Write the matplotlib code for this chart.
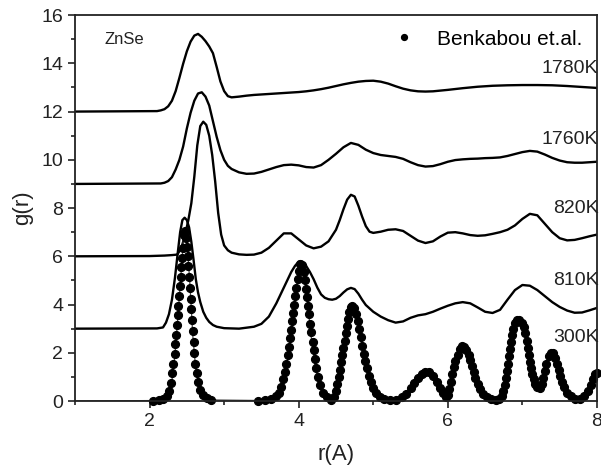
import matplotlib
matplotlib.use('Agg')
import matplotlib.pyplot as plt
from matplotlib.ticker import MultipleLocator

plt.rcParams['font.family'] = ['Liberation Sans', 'DejaVu Sans']

# g(r) curves, already shifted by 3 per temperature
r_1780 = [1.0, 2.1, 2.15, 2.2, 2.25, 2.3, 2.35, 2.4, 2.45, 2.5, 2.55, 2.6, 2.65, 2.7, 2.75, 2.8, 2.85,
          2.9, 2.95, 3.0, 3.05, 3.1, 3.2, 3.3, 3.4, 3.5, 3.6, 3.7, 3.8, 3.9, 4.0, 4.1, 4.2, 4.3, 4.4,
          4.5, 4.6, 4.7, 4.8, 4.9, 5.0, 5.1, 5.2, 5.3, 5.4, 5.5, 5.6, 5.7, 5.8, 5.9, 6.0, 6.2, 6.4, 6.6,
          6.8, 7.0, 7.2, 7.4, 7.6, 7.8, 8.0]
g_1780 = [12.0, 12.02, 12.05, 12.1, 12.22, 12.45, 12.85, 13.4, 13.98, 14.5, 14.9, 15.15, 15.22, 15.1,
          14.92, 14.7, 14.42, 13.85, 13.25, 12.85, 12.64, 12.59, 12.62, 12.66, 12.69, 12.71, 12.73,
          12.75, 12.77, 12.79, 12.81, 12.84, 12.88, 12.93, 12.99, 13.06, 13.13, 13.19, 13.24, 13.27,
          13.28, 13.24, 13.16, 13.05, 12.95, 12.88, 12.84, 12.83, 12.84, 12.87, 12.9, 12.97, 13.03,
          13.07, 13.09, 13.1, 13.1, 13.09, 13.06, 13.02, 12.98]

r_1760 = [1.0, 2.15, 2.2, 2.25, 2.3, 2.35, 2.4, 2.45, 2.5, 2.55, 2.6, 2.65, 2.7, 2.75, 2.8, 2.85, 2.9,
          2.95, 3.0, 3.05, 3.1, 3.2, 3.3, 3.4, 3.5, 3.6, 3.7, 3.8, 3.9, 4.0, 4.1, 4.2, 4.3, 4.4, 4.5,
          4.6, 4.7, 4.8, 4.9, 5.0, 5.1, 5.2, 5.3, 5.4, 5.5, 5.6, 5.7, 5.8, 5.9, 6.0, 6.1, 6.2, 6.3, 6.4,
          6.5, 6.6, 6.7, 6.8, 6.9, 7.0, 7.1, 7.2, 7.3, 7.4, 7.5, 7.6, 7.7, 7.8, 7.9, 8.0]
g_1760 = [9.0, 9.02, 9.05, 9.12, 9.28, 9.6, 10.0, 10.55, 11.3, 11.95, 12.45, 12.75, 12.8, 12.62, 12.25,
          11.6, 10.95, 10.4, 10.0, 9.75, 9.62, 9.48, 9.42, 9.43, 9.5, 9.6, 9.7, 9.78, 9.8, 9.77, 9.7,
          9.68, 9.78, 10.0, 10.25, 10.52, 10.7, 10.62, 10.42, 10.28, 10.2, 10.16, 10.12, 10.04, 9.9,
          9.78, 9.72, 9.74, 9.82, 9.92, 9.99, 10.02, 10.04, 10.05, 10.07, 10.08, 10.1, 10.16, 10.24,
          10.32, 10.37, 10.34, 10.22, 10.08, 9.97, 9.9, 9.88, 9.88, 9.9, 9.92]

r_820 = [1.0, 2.0, 2.2, 2.3, 2.37, 2.42, 2.47, 2.52, 2.56, 2.6, 2.64, 2.68, 2.72, 2.76, 2.8, 2.84, 2.88,
         2.92, 2.96, 3.0, 3.05, 3.1, 3.2, 3.3, 3.4, 3.5, 3.6, 3.7, 3.8, 3.9, 4.0, 4.1, 4.2, 4.3, 4.4,
         4.5, 4.55, 4.6, 4.65, 4.7, 4.75, 4.8, 4.85, 4.9, 4.95, 5.0, 5.1, 5.2, 5.3, 5.4, 5.5, 5.6, 5.7,
         5.8, 5.9, 6.0, 6.1, 6.2, 6.3, 6.4, 6.5, 6.6, 6.7, 6.8, 6.9, 7.0, 7.1, 7.2, 7.3, 7.4, 7.5, 7.6,
         7.7, 7.8, 7.9, 8.0]
g_820 = [6.0, 6.01, 6.03, 6.05, 6.07, 6.3, 6.8, 7.5, 8.2, 9.3, 10.6, 11.4, 11.58, 11.45, 11.0, 10.2,
         9.1, 7.8, 6.9, 6.45, 6.25, 6.15, 6.08, 6.06, 6.07, 6.15, 6.35, 6.65, 6.95, 6.95, 6.7, 6.45,
         6.33, 6.4, 6.62, 7.1, 7.5, 7.95, 8.35, 8.55, 8.48, 8.1, 7.65, 7.25, 7.02, 6.97, 7.02, 7.1,
         7.12, 7.05, 6.85, 6.65, 6.55, 6.62, 6.82, 6.98, 7.0, 6.95, 6.88, 6.85, 6.87, 6.93, 7.0, 7.1,
         7.28, 7.55, 7.76, 7.7, 7.35, 7.0, 6.75, 6.66, 6.68, 6.75, 6.83, 6.9]

r_810 = [1.0, 2.1, 2.18, 2.22, 2.26, 2.3, 2.34, 2.38, 2.41, 2.44, 2.47, 2.5, 2.53, 2.56, 2.59, 2.62,
         2.65, 2.68, 2.72, 2.76, 2.8, 2.85, 2.9, 3.0, 3.2, 3.4, 3.5, 3.6, 3.7, 3.8, 3.9, 3.95, 4.0, 4.05,
         4.1, 4.15, 4.2, 4.25, 4.3, 4.35, 4.4, 4.45, 4.5, 4.55, 4.6, 4.65, 4.7, 4.75, 4.8, 4.85, 4.9,
         5.0, 5.1, 5.2, 5.3, 5.4, 5.5, 5.6, 5.7, 5.8, 5.9, 6.0, 6.1, 6.2, 6.3, 6.4, 6.5, 6.6, 6.7, 6.8,
         6.9, 7.0, 7.1, 7.2, 7.3, 7.4, 7.5, 7.6, 7.7, 7.8, 7.9, 8.0]
g_810 = [3.0, 3.01, 3.05, 3.25, 3.6, 4.2, 5.1, 6.2, 7.0, 7.5, 7.6, 7.5, 7.2, 6.6, 5.85, 5.05, 4.5, 4.1,
         3.7, 3.45, 3.28, 3.15, 3.08, 3.02, 3.0, 3.08, 3.2, 3.5, 4.05, 4.7, 5.35, 5.6, 5.78, 5.78, 5.6,
         5.35, 5.05, 4.7, 4.42, 4.28, 4.22, 4.2, 4.24, 4.35, 4.5, 4.63, 4.69, 4.64, 4.45, 4.2, 3.98,
         3.7, 3.5, 3.35, 3.25, 3.3, 3.45, 3.55, 3.6, 3.7, 3.83, 3.95, 4.05, 4.1, 4.05, 3.88, 3.7, 3.65,
         3.78, 4.2, 4.6, 4.81, 4.78, 4.6, 4.35, 4.1, 3.9, 3.75, 3.66, 3.67, 3.76, 3.86]

# simulated 300 K curve
r_300 = [1.0, 2.1, 2.2, 2.25, 2.3, 2.34, 2.38, 2.42, 2.46, 2.5, 2.54, 2.58, 2.62, 2.66, 2.7, 2.8, 2.9,
         3.5, 3.65, 3.72, 3.8, 3.86, 3.92, 3.97, 4.02, 4.07, 4.12, 4.17, 4.22, 4.28, 4.35, 4.42, 4.48,
         4.54, 4.6, 4.66, 4.72, 4.78, 4.84, 4.9, 4.96, 5.02, 5.1, 5.2, 5.35, 5.45, 5.55, 5.65, 5.72,
         5.8, 5.88, 5.96, 6.02, 6.08, 6.14, 6.2, 6.26, 6.32, 6.38, 6.45, 6.55, 6.68, 6.74, 6.8, 6.86,
         6.92, 6.97, 7.03, 7.08, 7.13, 7.18, 7.23, 7.29, 7.35, 7.4, 7.45, 7.5, 7.56, 7.63, 7.72, 7.8,
         7.88, 7.94, 8.0]
g_300 = [0.0, 0.02, 0.1, 0.3, 0.85, 1.9, 3.5, 5.2, 6.95, 6.7, 4.9, 2.7, 1.3, 0.7, 0.4, 0.12, 0.04,
         0.02, 0.1, 0.3, 0.9, 1.9, 3.3, 4.8, 5.7, 5.3, 4.0, 2.6, 1.4, 0.6, 0.2, 0.08, 0.3, 1.0, 2.2,
         3.3, 3.9, 3.55, 2.55, 1.6, 0.85, 0.4, 0.12, 0.05, 0.05, 0.25, 0.65, 1.05, 1.2, 1.05, 0.6, 0.25,
         0.35, 1.2, 1.9, 2.25, 2.0, 1.45, 0.85, 0.35, 0.1, 0.08, 0.4, 1.3, 2.5, 3.2, 3.35, 3.0, 2.2,
         1.3, 0.8, 0.56, 0.95, 1.75, 2.0, 1.85, 1.3, 0.65, 0.25, 0.1, 0.12, 0.35, 0.75, 1.15]

# Benkabou et al. reference g(r) at 300 K
r_ref = [2.05, 2.12, 2.18, 2.23, 2.26, 2.285, 2.305, 2.32, 2.335, 2.345, 2.355, 2.365, 2.375, 2.385,
         2.395, 2.405, 2.415, 2.425, 2.435, 2.445, 2.46, 2.475, 2.49, 2.5, 2.51, 2.52, 2.53, 2.54, 2.55,
         2.56, 2.57, 2.58, 2.59, 2.6, 2.615, 2.63, 2.65, 2.68, 2.72, 2.77, 2.83,
         3.45, 3.55, 3.63, 3.69, 3.73, 3.765, 3.79, 3.81, 3.83, 3.85, 3.865, 3.88, 3.895, 3.91, 3.925,
         3.94, 3.955, 3.97, 3.985, 4.0, 4.02, 4.045, 4.065, 4.08, 4.095, 4.11, 4.125, 4.14, 4.155, 4.17,
         4.185, 4.2, 4.215, 4.235, 4.26, 4.29, 4.33, 4.38, 4.43,
         4.47, 4.5, 4.52, 4.54, 4.555, 4.57, 4.585, 4.6, 4.615, 4.63, 4.645, 4.66, 4.68, 4.7, 4.72,
         4.745, 4.77, 4.79, 4.81, 4.83, 4.85, 4.87, 4.89, 4.915, 4.94, 4.97, 5.0, 5.04, 5.09, 5.15, 5.22,
         5.3, 5.38, 5.44, 5.5, 5.55, 5.6, 5.65, 5.7, 5.75, 5.8, 5.85, 5.89, 5.93, 5.97,
         6.0, 6.02, 6.04, 6.06, 6.08, 6.1, 6.13, 6.16, 6.19, 6.22, 6.25, 6.28, 6.3, 6.32, 6.345, 6.37,
         6.4, 6.43, 6.47, 6.52, 6.58, 6.64,
         6.69, 6.72, 6.74, 6.76, 6.775, 6.79, 6.805, 6.82, 6.835, 6.85, 6.865, 6.88, 6.9, 6.93, 6.96,
         6.99, 7.02, 7.04, 7.06, 7.075, 7.09, 7.105, 7.12, 7.135, 7.15, 7.17, 7.2, 7.23,
         7.26, 7.28, 7.3, 7.32, 7.35, 7.38, 7.41, 7.44, 7.465, 7.49, 7.51, 7.535, 7.56, 7.6, 7.65, 7.71,
         7.77, 7.83, 7.88, 7.92, 7.95, 7.98, 8.0]
g_ref = [0.02, 0.05, 0.1, 0.2, 0.4, 0.75, 1.15, 1.55, 1.95, 2.35, 2.75, 3.15, 3.55, 3.95, 4.35, 4.75,
         5.15, 5.55, 5.95, 6.35, 6.9, 7.05, 6.75, 6.4, 6.0, 5.6, 5.15, 4.7, 4.25, 3.8, 3.35, 2.9, 2.45,
         2.0, 1.55, 1.15, 0.8, 0.45, 0.25, 0.12, 0.05,
         0.02, 0.05, 0.1, 0.2, 0.35, 0.6, 0.9, 1.2, 1.55, 1.9, 2.25, 2.6, 2.95, 3.3, 3.65, 4.0, 4.35,
         4.7, 5.05, 5.4, 5.7, 5.65, 5.35, 5.0, 4.65, 4.3, 3.95, 3.6, 3.2, 2.85, 2.45, 2.1, 1.75, 1.35,
         1.0, 0.65, 0.35, 0.15, 0.06,
         0.15, 0.4, 0.7, 1.0, 1.3, 1.6, 1.9, 2.2, 2.5, 2.8, 3.1, 3.4, 3.7, 3.9, 3.95, 3.85, 3.6, 3.3,
         3.0, 2.65, 2.3, 1.95, 1.65, 1.35, 1.05, 0.8, 0.55, 0.33, 0.18, 0.08, 0.03,
         0.05, 0.15, 0.3, 0.55, 0.75, 0.95, 1.12, 1.22, 1.2, 1.05, 0.8, 0.55, 0.33, 0.18,
         0.25, 0.5, 0.8, 1.1, 1.4, 1.65, 1.9, 2.15, 2.28, 2.25, 2.1, 1.9, 1.7, 1.45, 1.2, 0.95, 0.7,
         0.5, 0.3, 0.15, 0.07, 0.04,
         0.08, 0.2, 0.4, 0.65, 0.95, 1.25, 1.55, 1.85, 2.15, 2.45, 2.75, 3.0, 3.25, 3.36, 3.35, 3.25,
         3.05, 2.8, 2.5, 2.2, 1.9, 1.6, 1.35, 1.1, 0.9, 0.7, 0.58, 0.55,
         0.7, 0.95, 1.25, 1.55, 1.85, 2.0, 1.98, 1.8, 1.55, 1.3, 1.05, 0.8, 0.58, 0.35, 0.2, 0.1, 0.1,
         0.2, 0.4, 0.65, 0.9, 1.1, 1.16]

temp_labels = ['1780K', '1760K', '820K', '810K', '300K']
label_y = [13.8, 10.85, 8.0, 5.0, 2.65]

fig = plt.figure(figsize=(6.01, 4.72), dpi=100)
ax = fig.add_axes([0.1248, 0.1504, 0.8685, 0.8176])

for r, g in [(r_1780, g_1780), (r_1760, g_1760), (r_820, g_820), (r_810, g_810)]:
    ax.plot(r, g, color='black', lw=1.7, solid_joinstyle='round')
ax.plot(r_300, g_300, color='#444444', lw=0.9)
ax.plot(r_ref, g_ref, 'o', color='black', ms=5.6, label='Benkabou et.al.', clip_on=False)

for lab, y in zip(temp_labels, label_y):
    ax.text(8.02, y, lab, ha='right', va='center', fontsize=14, color='#222222')

ax.text(1.4, 15.0, 'ZnSe', ha='left', va='center', fontsize=12, color='#222222')

ax.legend(loc='upper right', frameon=False, fontsize=15, handletextpad=0.6,
          borderaxespad=0.3, markerscale=0.75)

ax.set_xlim(1, 8)
ax.set_ylim(0, 16)
ax.xaxis.set_major_locator(MultipleLocator(2))
ax.xaxis.set_minor_locator(MultipleLocator(1))
ax.yaxis.set_major_locator(MultipleLocator(2))
ax.yaxis.set_minor_locator(MultipleLocator(1))
ax.tick_params(which='both', direction='out', top=False, right=False, labelsize=14,
               colors='#222222', width=1.2)
ax.tick_params(which='major', length=5)
ax.tick_params(which='minor', length=3)
for s in ax.spines.values():
    s.set_linewidth(1.3)
    s.set_color('#222222')

ax.set_xlabel('r(A)', fontsize=16, color='#222222', labelpad=10)
ax.set_ylabel('g(r)', fontsize=16, color='#222222', labelpad=6)

fig.savefig('out.png', dpi=100)
